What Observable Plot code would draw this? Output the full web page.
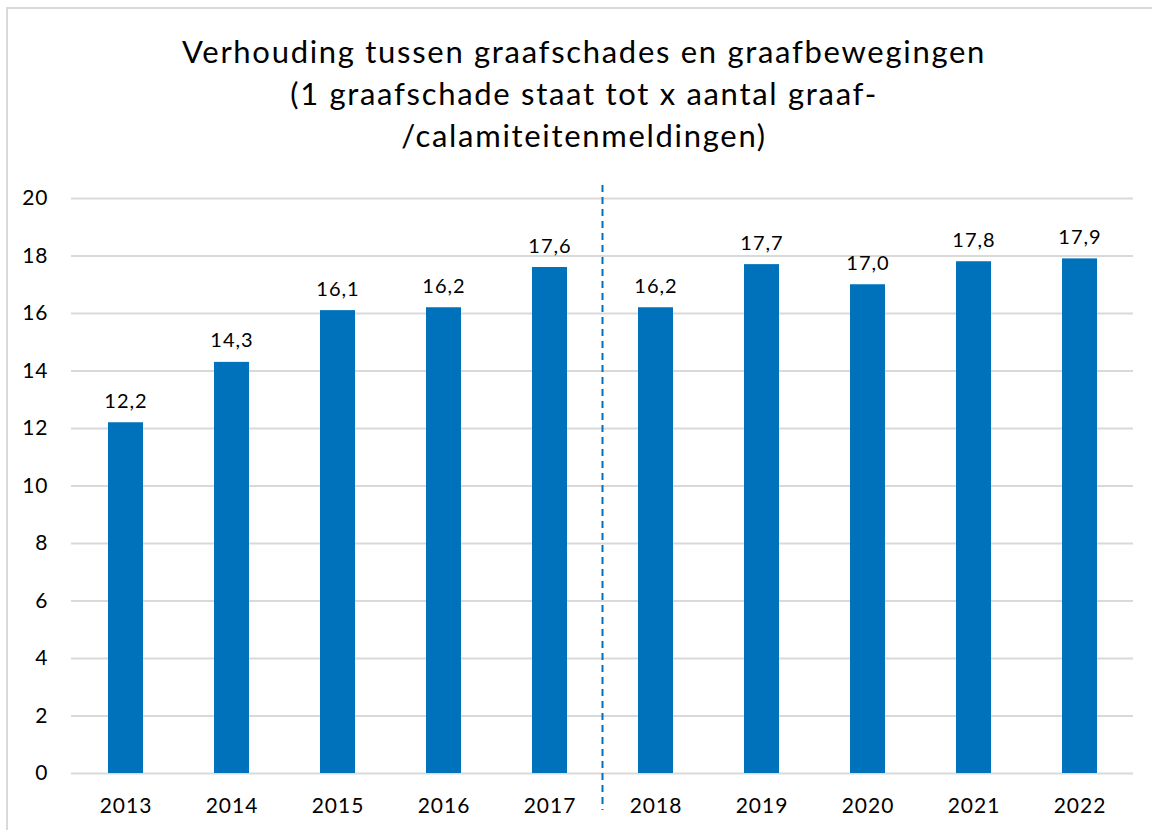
<!DOCTYPE html>
<html>
<head>
<meta charset="utf-8">
<script src="https://cdn.jsdelivr.net/npm/d3@7"></script>
<script src="https://cdn.jsdelivr.net/npm/@observablehq/plot@0.6"></script>
<style>
  html, body { margin: 0; padding: 0; background: #fff; overflow: hidden; }
  #frame { position: absolute; left: 6px; top: 7px; width: 1200px; height: 900px; border: 2px solid #d9d9d9; box-sizing: border-box; }
  #title { position: absolute; left: 0; top: 30px; width: 1168px; text-align: center; font-family: Lato, sans-serif; font-size: 31px; letter-spacing: 1.7px; line-height: 42px; color: #000; }
  #chart { position: absolute; left: 0; top: 170px; }
  #chart svg text { letter-spacing: 1px; }
</style>
</head>
<body>
<div id="frame"></div>
<div id="title">Verhouding tussen graafschades en graafbewegingen<br>(1 graafschade staat tot x aantal graaf-<br>/calamiteitenmeldingen)</div>
<div id="chart"></div>
<script>
const years = ["2013","2014","2015","2016","2017","2018","2019","2020","2021","2022"];
const ratios = [12.2, 14.3, 16.1, 16.2, 17.6, 16.2, 17.7, 17.0, 17.8, 17.9];
const yTicks = [0, 2, 4, 6, 8, 10, 12, 14, 16, 18, 20];
const splitBefore = "2018";

const data = years.map((y, i) => ({year: y, value: ratios[i]}));
const fmt = v => v.toFixed(1).replace(".", ",");

const separator = (index, scales, values, dimensions) => {
  const x = scales.x;
  const i = years.indexOf(splitBefore);
  const bw = x.bandwidth ? x.bandwidth() : 0;
  const xm = (x(years[i - 1]) + bw + x(years[i])) / 2;
  const y0 = scales.y(0) + 37, y1 = scales.y(20) - 13;
  const line = document.createElementNS("http://www.w3.org/2000/svg", "line");
  line.setAttribute("x1", xm); line.setAttribute("x2", xm);
  line.setAttribute("y1", y1); line.setAttribute("y2", y0);
  line.setAttribute("stroke", "#0071bb");
  line.setAttribute("stroke-width", 2);
  line.setAttribute("stroke-dasharray", "7,5");
  return line;
};

const chart = Plot.plot({
  width: 1152,
  height: 660,
  marginLeft: 71,
  marginRight: 19,
  marginTop: 28,
  marginBottom: 57,
  style: {fontFamily: "Lato, sans-serif", fontSize: "21px", color: "#000", background: "transparent", overflow: "visible"},
  x: {domain: years, paddingInner: 0.67, paddingOuter: 0.335, label: null, tickSize: 0, tickPadding: 25},
  y: {domain: [0, 20], ticks: yTicks, label: null, tickSize: 0, tickPadding: 23, tickFormat: d => String(d)},
  marks: [
    Plot.ruleY(yTicks, {stroke: "#d9d9d9", strokeWidth: 2}),
    Plot.barY(data, {x: "year", y: "value", fill: "#0071bb"}),
    Plot.text(data, {x: "year", y: "value", text: d => fmt(d.value), lineAnchor: "bottom", dy: -15, fontSize: 20, fill: "#000"}),
    separator
  ]
});
document.getElementById("chart").appendChild(chart);
</script>
</body>
</html>
